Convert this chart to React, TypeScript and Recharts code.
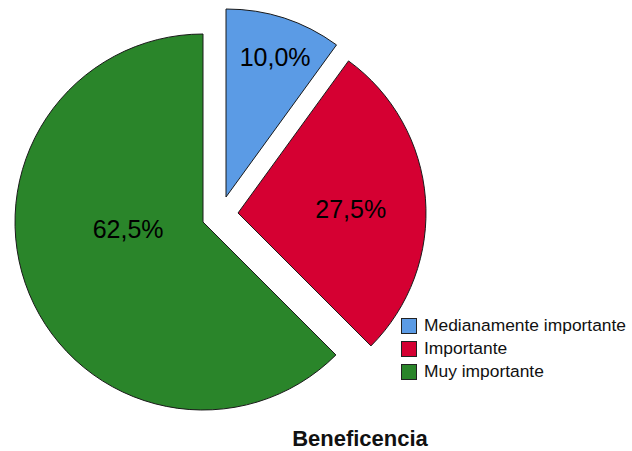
import { PieChart, Pie, Cell, Legend } from 'recharts';

// Beneficencia - porcentajes por categoría
const categories = ['Medianamente importante', 'Importante', 'Muy importante'];
const percents = [10.0, 27.5, 62.5];
const colors = ['#5b9be5', '#d50032', '#2a852a'];

// posición del gráfico y separación de los sectores
const CX = 203;
const CY = 222;
const R = 188;
const explode = [
  { dx: 23, dy: -25 },
  { dx: 35, dy: -9 },
  { dx: 0, dy: 0 },
];
// etiquetas: radio relativo y desplazamiento angular respecto al centro del sector
const labelPlacement = [
  { r: 0.79, shift: -1.3 },
  { r: 0.6, shift: -2.5 },
  { r: 0.4, shift: -17.5 },
];

const FONT = '"Liberation Sans", Arial, sans-serif';
const total = percents.reduce((s, v) => s + v, 0);
const RAD = Math.PI / 180;

const fmt = (v: number) => v.toFixed(1).replace('.', ',') + '%';

const makeLabel = (i: number) => (props: any) => {
  const { cx, cy, midAngle, outerRadius, value } = props;
  const a = (midAngle + labelPlacement[i].shift) * RAD;
  const r = outerRadius * labelPlacement[i].r;
  const x = cx + r * Math.cos(-a);
  const y = cy + r * Math.sin(-a);
  return (
    <text
      x={x}
      y={y}
      textAnchor="middle"
      dominantBaseline="central"
      fill="#000"
      fontSize={25}
      fontFamily={FONT}
      style={{ fontSize: '25px', fontFamily: FONT }}
    >
      {fmt(value)}
    </text>
  );
};

const LegendBox = () => (
  <div style={{ fontFamily: FONT, fontSize: '17.4px', color: '#111' }}>
    {categories.map((name, i) => (
      <div key={name} style={{ display: 'flex', alignItems: 'center', height: '23px' }}>
        <span
          style={{
            display: 'inline-block',
            width: '16px',
            height: '16px',
            boxSizing: 'border-box',
            border: '1px solid #222',
            backgroundColor: colors[i],
            marginRight: '7px',
          }}
        />
        <span style={{ lineHeight: '23px' }}>{name}</span>
      </div>
    ))}
  </div>
);

export default function App() {
  let cum = 0;
  const slices = percents.map((v, i) => {
    const startAngle = 90 - (cum / total) * 360;
    cum += v;
    const endAngle = 90 - (cum / total) * 360;
    return { name: categories[i], value: v, startAngle, endAngle, i };
  });

  return (
    <div style={{ position: 'absolute', left: 0, top: 0, width: 632, height: 451, background: '#fff' }}>
      <PieChart width={632} height={451} margin={{ top: 0, right: 0, bottom: 0, left: 0 }}>
        {slices.map((s) => (
          <Pie
            key={s.name}
            data={[{ name: s.name, value: s.value }]}
            dataKey="value"
            nameKey="name"
            cx={CX + explode[s.i].dx}
            cy={CY + explode[s.i].dy}
            outerRadius={R}
            innerRadius={0}
            startAngle={s.startAngle}
            endAngle={s.endAngle}
            stroke="#1a1a1a"
            strokeWidth={1}
            label={makeLabel(s.i)}
            labelLine={false}
            isAnimationActive={false}
          >
            <Cell fill={colors[s.i]} />
          </Pie>
        ))}
        <Legend
          layout="vertical"
          content={<LegendBox />}
          wrapperStyle={{ position: 'absolute', left: 401, top: 314, width: 'auto', bottom: 'auto' }}
        />
      </PieChart>
      <div
        style={{
          position: 'absolute',
          left: 260,
          width: 200,
          top: 428,
          textAlign: 'center',
          fontFamily: FONT,
          fontWeight: 'bold',
          fontSize: '22px',
          lineHeight: '22px',
          color: '#111',
        }}
      >
        Beneficencia
      </div>
    </div>
  );
}
